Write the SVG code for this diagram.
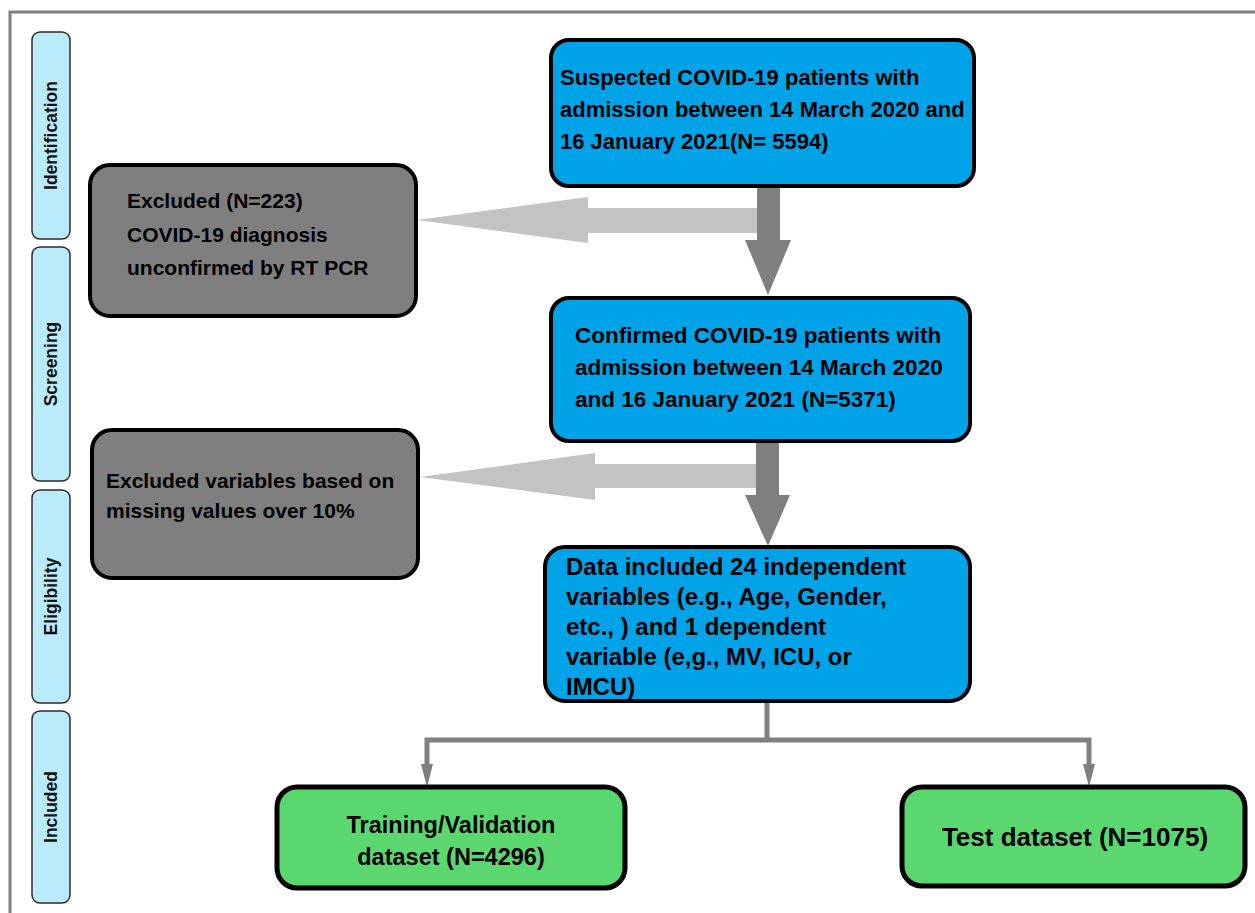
<svg xmlns="http://www.w3.org/2000/svg" width="1255" height="913" viewBox="0 0 1255 913">
<style>
.stage{fill:#b9ebfb;stroke:#2b2b2b;stroke-width:1.5}
.stxt{font-family:"Liberation Sans",Arial,sans-serif;font-weight:bold;font-size:17.5px;fill:#111;text-anchor:middle}
.blue{fill:#00a2e8;stroke:#000;stroke-width:4}
.gray{fill:#7f7f7f;stroke:#000;stroke-width:4}
.green{fill:#5bd76f;stroke:#000;stroke-width:5}
.t{font-family:"Liberation Sans",Arial,sans-serif;font-weight:bold;fill:#000}
.light{fill:#c3c3c3}
.dark{fill:#7f7f7f}
.line{fill:none;stroke:#808080;stroke-width:5}
</style>
<rect width="1255" height="913" fill="#fff"/>
<path d="M10,913 V12 H1255" fill="none" stroke="#808080" stroke-width="3"/>

<g id="stage-identification">
<rect class="stage" x="32" y="32" width="38" height="207" rx="8"/>
<text class="stxt" transform="translate(57,135.5) rotate(-90)">Identification</text>
</g>
<g id="stage-screening">
<rect class="stage" x="32" y="247" width="38" height="234" rx="8"/>
<text class="stxt" transform="translate(57,364) rotate(-90)">Screening</text>
</g>
<g id="stage-eligibility">
<rect class="stage" x="32" y="490" width="38" height="213" rx="8"/>
<text class="stxt" transform="translate(57,596.5) rotate(-90)">Eligibility</text>
</g>
<g id="stage-included">
<rect class="stage" x="32" y="711" width="38" height="192" rx="8"/>
<text class="stxt" transform="translate(57,807) rotate(-90)">Included</text>
</g>

<g id="connectors">
<polygon class="light" points="757,208 588,208 588,197 417,220 588,243 588,233 757,233"/>
<polygon class="dark" points="757,186 780,186 780,240 791,240 768,295 745,240 757,240"/>
<polygon class="light" points="757,464 595,464 595,453 420,477 595,500 595,488 757,488"/>
<polygon class="dark" points="756,441 779,441 779,495 790,495 768,546 745,495 756,495"/>
<path class="line" d="M767,703 V740 M424.5,740 H1091.5 M427,740 V766 M1089,740 V766"/>
<polygon class="dark" points="421,764 433,764 427,787"/>
<polygon class="dark" points="1083,764 1095,764 1089,787"/>
</g>

<g id="suspected">
<rect class="blue" x="551" y="40" width="423" height="146" rx="18"/>
<text class="t" font-size="22"><tspan x="560" y="85">Suspected COVID-19 patients with</tspan><tspan x="560" y="117">admission between 14 March 2020 and</tspan><tspan x="560" y="149">16 January 2021(N= 5594)</tspan></text>
</g>

<g id="excluded-1">
<rect class="gray" x="90" y="165" width="326" height="151" rx="20"/>
<text class="t" font-size="21"><tspan x="127" y="208">Excluded (N=223)</tspan><tspan x="127" y="242">COVID-19 diagnosis</tspan><tspan x="127" y="275">unconfirmed by RT PCR</tspan></text>
</g>

<g id="confirmed">
<rect class="blue" x="551" y="298" width="419" height="143" rx="18"/>
<text class="t" font-size="22.5"><tspan x="575" y="343">Confirmed COVID-19 patients with</tspan><tspan x="575" y="375">admission between 14 March 2020</tspan><tspan x="575" y="407">and 16 January 2021 (N=5371)</tspan></text>
</g>

<g id="excluded-2">
<rect class="gray" x="92" y="430" width="326" height="148" rx="20"/>
<text class="t" font-size="21"><tspan x="106" y="488">Excluded variables based on</tspan><tspan x="106" y="518">missing values over 10%</tspan></text>
</g>

<g id="data-included">
<rect class="blue" x="545" y="547" width="425" height="154" rx="20"/>
<text class="t" font-size="24"><tspan x="566" y="575">Data included 24 independent</tspan><tspan x="566" y="605">variables (e.g., Age, Gender,</tspan><tspan x="566" y="635">etc., ) and 1 dependent</tspan><tspan x="566" y="665">variable (e,g., MV, ICU, or</tspan><tspan x="566" y="695">IMCU)</tspan></text>
</g>

<g id="training">
<rect class="green" x="277" y="787" width="348" height="101" rx="20"/>
<text class="t" font-size="23.5" text-anchor="middle"><tspan x="451" y="833">Training/Validation</tspan><tspan x="451" y="865">dataset (N=4296)</tspan></text>
</g>

<g id="test">
<rect class="green" x="902" y="787" width="343" height="99" rx="20"/>
<text class="t" font-size="26" text-anchor="middle"><tspan x="1075" y="846">Test dataset (N=1075)</tspan></text>
</g>
</svg>
